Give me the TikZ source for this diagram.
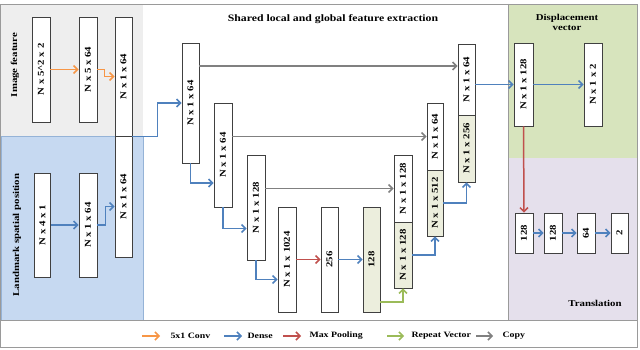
\documentclass[tikz,border=0pt]{standalone}
\usepackage{fontspec}
\setmainfont{Liberation Serif}[FakeStretch=1.2]
\usepackage{graphicx}
\usetikzlibrary{arrows.meta,positioning}

\definecolor{convorange}{HTML}{F79646}
\definecolor{denseblue}{HTML}{4F81BD}
\definecolor{poolred}{HTML}{C0504D}
\definecolor{repgreen}{HTML}{9BBB59}
\definecolor{copygray}{HTML}{808080}
\definecolor{imgpanel}{HTML}{EEEEEE}
\definecolor{lmpanel}{HTML}{C6D9F1}
\definecolor{disppanel}{HTML}{D7E4BD}
\definecolor{transpanel}{HTML}{E5E0EC}
\definecolor{repfill}{HTML}{ECEEDD}

\begin{document}
        \begin{tikzpicture}[x=1pt,y=-1pt,
            box/.style={draw=black!75,fill=white,line width=0.8pt,inner sep=0pt,font=\bfseries\fontsize{9}{10}\selectfont},
            repbox/.style={box,fill=repfill},
            conn/.style={line width=1.5pt,-{Straight Barb[length=4pt,width=8pt]}},
            convarrow/.style={conn,convorange},
            densearrow/.style={conn,denseblue},
            poolarrow/.style={conn,poolred},
            reparrow/.style={conn,repgreen},
            copyarrow/.style={conn,copygray},
            lbl/.style={font=\bfseries\fontsize{9}{10}\selectfont},
            legendlbl/.style={font=\bfseries\fontsize{8.2}{10}\selectfont,anchor=west}]
            \useasboundingbox (0,0) rectangle (640,350);
            \fill[imgpanel] (1,4) rectangle (143,136);
            \filldraw[fill=lmpanel,draw=denseblue!60] (1,136) rectangle (143,320);
            \fill[disppanel] (508,4) rectangle (637,158);
            \fill[transpanel] (508,158) rectangle (637,320);
            \draw[copygray!80] (508,4) -- (508,320);
            \draw[copygray!80] (0,320) -- (637,320);
            \draw[copygray!80] (0,4) rectangle (637,347);

            \node[lbl,rotate=90] (imglbl) at (15,65) {Image feature};
            \node[lbl,rotate=90] (lmlbl) at (17,235) {Landmark spatial position};
            \node[lbl,font=\bfseries\fontsize{9.8}{11}\selectfont] (sharedlbl) at (333,19) {Shared local and global feature extraction};
            \node[lbl,align=center] (displbl) at (567,22) {Displacement\\vector};
            \node[lbl] (translbl) at (595,303) {Translation};

            \node[box,minimum width=18pt,minimum height=105pt] (a1) at (41,69.5) {\rotatebox{90}{N x 5\textasciicircum 2 x 2}};
            \node[box,minimum width=18pt,minimum height=105pt] (a2) at (88,69.5) {\rotatebox{90}{N x 5 x 64}};
            \node[box,minimum width=17pt,minimum height=119pt] (a3) at (123.5,76.5) {\rotatebox{90}{N x 1 x 64}};
            \node[box,minimum width=17pt,minimum height=121pt] (a4) at (123.5,196.5) {\rotatebox{90}{N x 1 x 64}};
            \node[box,minimum width=16pt,minimum height=104pt] (b1) at (42.5,225) {\rotatebox{90}{N x 4 x 1}};
            \node[box,minimum width=18pt,minimum height=104pt] (b2) at (88,225) {\rotatebox{90}{N x 1 x 64}};

            \node[box,minimum width=17pt,minimum height=120pt] (m1) at (190.5,103) {\rotatebox{90}{N x 1 x 64}};
            \node[box,minimum width=18pt,minimum height=104pt] (m2) at (223,155) {\rotatebox{90}{N x 1 x 64}};
            \node[box,minimum width=18pt,minimum height=105pt] (m3) at (256,207.5) {\rotatebox{90}{N x 1 x 128}};
            \node[box,minimum width=18pt,minimum height=105pt] (m4) at (287,259.5) {\rotatebox{90}{N x 1 x 1024}};
            \node[box,minimum width=17pt,minimum height=105pt] (m5) at (329.5,259.5) {\rotatebox{90}{256}};
            \node[repbox,minimum width=17pt,minimum height=105pt] (m6) at (371.5,259.5) {\rotatebox{90}{128}};

            \node[box,minimum width=18pt,minimum height=67pt] (c1) at (403,188.5) {\rotatebox{90}{N x 1 x 128}};
            \node[repbox,minimum width=18pt,minimum height=66pt] (c2) at (403,255) {\rotatebox{90}{N x 1 x 128}};
            \node[box,minimum width=16pt,minimum height=67pt] (d1) at (435,136.5) {\rotatebox{90}{N x 1 x 64}};
            \node[repbox,minimum width=16pt,minimum height=66pt] (d2) at (435,203) {\rotatebox{90}{N x 1 x 512}};
            \node[box,minimum width=17pt,minimum height=71pt] (e1) at (466.5,79.5) {\rotatebox{90}{N x 1 x 64}};
            \node[repbox,minimum width=17pt,minimum height=67pt] (e2) at (466.5,148.5) {\rotatebox{90}{N x 1 x 256}};

            \node[box,minimum width=19pt,minimum height=83pt] (r1) at (523.5,84.5) {\rotatebox{90}{N x 1 x 128}};
            \node[box,minimum width=18pt,minimum height=83pt] (r2) at (593,84.5) {\rotatebox{90}{N x 1 x 2}};
            \node[box,minimum width=18pt,minimum height=40pt] (t1) at (524,233) {\rotatebox{90}{128}};
            \node[box,minimum width=18pt,minimum height=40pt] (t2) at (553,233) {\rotatebox{90}{128}};
            \node[box,minimum width=18pt,minimum height=40pt] (t3) at (586,233) {\rotatebox{90}{64}};
            \node[box,minimum width=17pt,minimum height=40pt] (t4) at (619.5,233) {\rotatebox{90}{2}};

            \draw[convarrow] (a1) -- (a2);
            \draw[convarrow] (a2.east) -- ++(7,0) |- (a3.west);
            \draw[densearrow] (b1) -- (b2);
            \draw[densearrow] (b2.east) -- ++(8,0) |- ([yshift=-10pt]a4.west);
            \draw[densearrow] (a3.south east) -- ++(25,0) |- (m1.west);

            \draw[densearrow] (m1.south) |- ([yshift=-28pt]m2.west);
            \draw[densearrow] (m2.south) |- ([yshift=-21pt]m3.west);
            \draw[densearrow] (m3.south) |- ([yshift=-20pt]m4.west);
            \draw[poolarrow] (m4) -- (m5);
            \draw[densearrow] (m5) -- (m6);
            \draw[reparrow] (m6.east |- 0,302) -| (c2.south);
            \draw[densearrow] (c2.east) -| (d2.south);
            \draw[densearrow] (d2.east) -| (e2.south);

            \draw[copyarrow] (m1.east |- 0,66) -- (e1.west |- 0,66);
            \draw[copyarrow] (m2.east |- d1.west) -- (d1.west);
            \draw[copyarrow] (m3.east |- c1.west) -- (c1.west);

            \draw[densearrow] (r1.west -| e1.east) -- (r1.west);
            \draw[densearrow] (r1) -- (r2);
            \draw[poolarrow] (r1.south) -- (t1.north);
            \draw[densearrow] (t1) -- (t2);
            \draw[densearrow] (t2) -- (t3);
            \draw[densearrow] (t3) -- (t4);

            \node[legendlbl] (lgconv) at (167,336) {5x1 Conv};
            \node[legendlbl] (lgdense) at (244,336) {Dense};
            \node[legendlbl] (lgpool) at (306,336) {Max Pooling};
            \node[legendlbl] (lgrep) at (408,336) {Repeat Vector};
            \node[legendlbl] (lgcopy) at (499,336) {Copy};
            \draw[convarrow] ([xshift=-25pt]lgconv.west) -- ([xshift=-7pt]lgconv.west);
            \draw[densearrow] ([xshift=-20pt]lgdense.west) -- ([xshift=-2pt]lgdense.west);
            \draw[poolarrow] ([xshift=-23pt]lgpool.west) -- ([xshift=-5pt]lgpool.west);
            \draw[reparrow] ([xshift=-21pt]lgrep.west) -- ([xshift=-4pt]lgrep.west);
            \draw[copyarrow] ([xshift=-23pt]lgcopy.west) -- ([xshift=-6pt]lgcopy.west);
        \end{tikzpicture}
\end{document}
